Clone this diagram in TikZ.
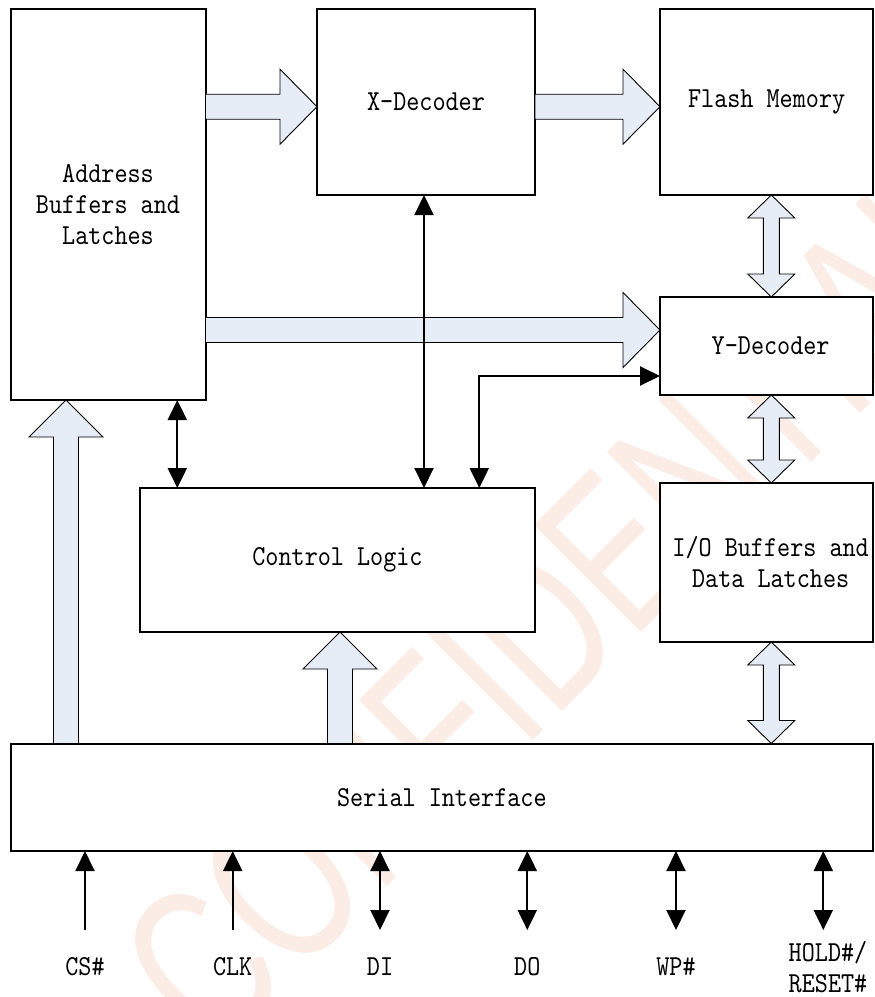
\documentclass[tikz,border=0pt]{standalone}
\usepackage{fontspec}
\newfontfamily\wmfont{Liberation Sans}
\newfontfamily\diagmono[FakeStretch=0.86]{lmmono10-regular.otf}
\usetikzlibrary{arrows.meta,calc}
\definecolor{blkfill}{RGB}{230,237,247}
\definecolor{wmcol}{RGB}{251,236,229}
\newcommand\diagfont{\diagmono\fontsize{29}{31}\selectfont}
\newcommand\rblk[2]{\draw[blk] let \p1=(#1), \p2=(#2) in
  (\x1,\y2+12.5pt) -- (\x2-37pt,\y2+12.5pt) -- (\x2-37pt,\y2+37.5pt) -- (\x2,\y2)
  -- (\x2-37pt,\y2-37.5pt) -- (\x2-37pt,\y2-12.5pt) -- (\x1,\y2-12.5pt) -- cycle;}
\newcommand\ublk[2]{\draw[blk] let \p1=(#1), \p2=(#2) in
  (\x2,\y2) -- (\x2+37pt,\y2-37pt) -- (\x2+12.5pt,\y2-37pt) -- (\x2+12.5pt,\y1)
  -- (\x2-12.5pt,\y1) -- (\x2-12.5pt,\y2-37pt) -- (\x2-37pt,\y2-37pt) -- cycle;}
\newcommand\vdblk[2]{\draw[blk] let \p1=(#1), \p2=(#2) in
  (\x1,\y1) -- (\x1+23.5pt,\y1-23pt) -- (\x1+8pt,\y1-23pt) -- (\x1+8pt,\y2+23pt)
  -- (\x1+23.5pt,\y2+23pt) -- (\x1,\y2) -- (\x1-23.5pt,\y2+23pt) -- (\x1-8pt,\y2+23pt)
  -- (\x1-8pt,\y1-23pt) -- (\x1-23.5pt,\y1-23pt) -- cycle;}
\begin{document}
\begin{tikzpicture}[x=1pt,y=-1pt,
  box/.style={draw, line width=2pt, fill=white, inner sep=0pt, outer sep=0pt, align=center, font=\diagfont},
  blk/.style={draw, line width=0.9pt, fill=blkfill, line join=miter},
  dblarr/.style={line width=2pt, {Triangle[length=20pt,width=19pt]}-{Triangle[length=20pt,width=19pt]}},
  sglarr/.style={line width=2pt, -{Triangle[length=20pt,width=19pt]}},
  pinlabel/.style={font=\diagfont, align=left, inner sep=0pt}]
\useasboundingbox (0,0) rectangle (875,997);
% watermark
\begin{scope}
\clip (0,0) rectangle (875,997);
\node[rotate=45, anchor=base west, text=wmcol, font=\wmfont\fontsize{220}{220}\selectfont, inner sep=0pt] (wmk) at (215,1059) {\scalebox{0.7}[1]{CONFIDENTIAL}};
\end{scope}
% boxes
\node[box, minimum width=195, minimum height=391] (addr) at (108,204.5) {Address\\Buffers and\\Latches};
\node[box, minimum width=218, minimum height=186] (xdec) at (426,102) {X-Decoder};
\node[box, minimum width=213.3, minimum height=186] (flash) at (766.65,102) {Flash Memory};
\node[box, minimum width=213.3, minimum height=98] (ydec) at (766.65,346) {\hspace*{8pt}Y-Decoder};
\node[box, minimum width=213.3, minimum height=159] (io) at (766.65,562.5) {\hspace*{8pt}I/O Buffers and\\\hspace*{8pt}Data Latches};
\node[box, minimum width=395, minimum height=144] (ctrl) at (337.5,560) {Control Logic};
\node[box, minimum width=862.8, minimum height=107.5] (serial) at (441.9,797.25) {Serial Interface};
% block arrows
\rblk{addr.east |- 0,106.7}{xdec.west |- 0,106.7}
\rblk{xdec.east |- 0,106.7}{flash.west |- 0,106.7}
\rblk{addr.east |- 0,330}{ydec.west |- 0,330}
\ublk{serial.north -| 66,0}{addr.south -| 66,0}
\ublk{serial.north -| 340,0}{ctrl.south -| 340,0}
\vdblk{flash.south -| 771.3,0}{ydec.north -| 771.3,0}
\vdblk{ydec.south -| 771.3,0}{io.north -| 771.3,0}
\vdblk{io.south -| 771.3,0}{serial.north -| 771.3,0}
% control arrows
\draw[dblarr] (addr.south -| 177.3,0) -- (ctrl.north -| 177.3,0);
\draw[dblarr] (xdec.south -| 424,0) -- (ctrl.north -| 424,0);
\draw[dblarr] (ctrl.north -| 479.3,0) |- (ydec.west |- 0,376);
% pins
\coordinate (pcs) at (85,930);
\coordinate (pclk) at (232.7,930);
\coordinate (pdi) at (380,930);
\coordinate (pdo) at (527.3,930);
\coordinate (pwp) at (676,930);
\coordinate (phold) at (823.3,930);
\draw[sglarr] (pcs) -- (serial.south -| pcs);
\draw[sglarr] (pclk) -- (serial.south -| pclk);
\draw[dblarr] (serial.south -| pdi) -- (pdi);
\draw[dblarr] (serial.south -| pdo) -- (pdo);
\draw[dblarr] (serial.south -| pwp) -- (pwp);
\draw[dblarr] (serial.south -| phold) -- (phold);
\node[pinlabel] (lcs) at (85,967) {CS\#};
\node[pinlabel] (lclk) at (232.7,967) {CLK};
\node[pinlabel] (ldi) at (380,967) {DI};
\node[pinlabel] (ldo) at (527.3,967) {DO};
\node[pinlabel] (lwp) at (676,967) {WP\#};
\node[pinlabel] (lhold) at (828,967) {HOLD\#/\\RESET\#};
\end{tikzpicture}
\end{document}
